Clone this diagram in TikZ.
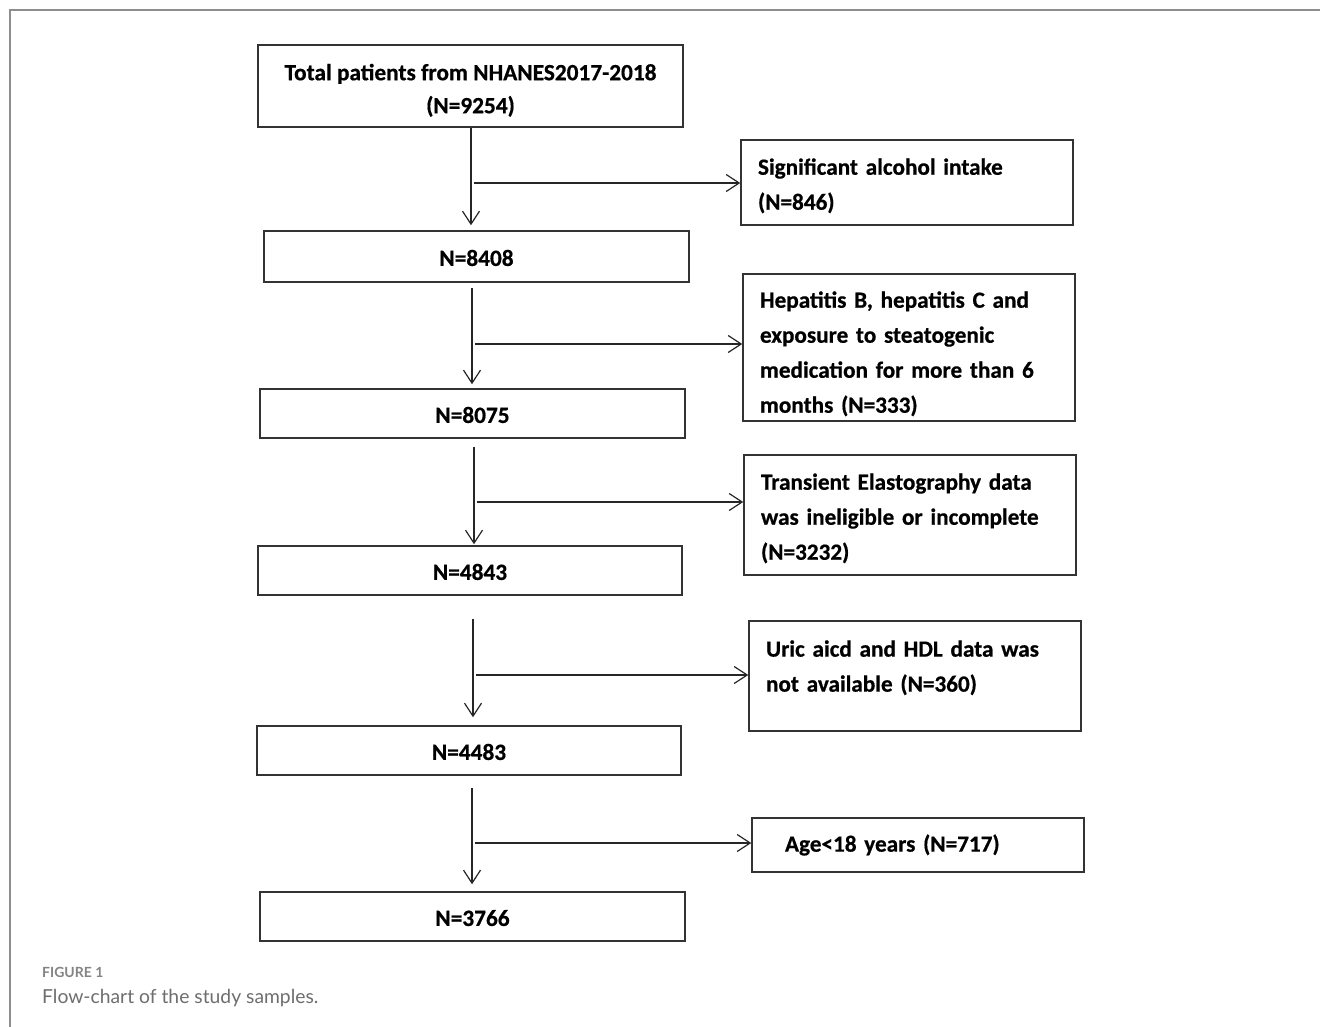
\documentclass[tikz,border=0pt]{standalone}
\usepackage{fontspec}
\setmainfont{Carlito}[BoldFeatures={FakeBold=0.6}]
\newfontfamily\capfont{Lato}
\usetikzlibrary{arrows.meta}
\definecolor{framegray}{HTML}{8E8E8E}
\definecolor{capgray}{HTML}{6E6E6E}
\definecolor{boxline}{HTML}{333333}
% strut in first line that lowers the text block by about #1 pt
\newcommand\lowerby[1]{\rule{0pt}{\dimexpr 17pt+#1pt+#1pt\relax}}
\tikzset{
  mainbox/.style={draw=boxline, line width=1.5pt, rectangle, align=center,
    minimum width=425pt, minimum height=49pt, inner sep=0pt,
    font=\fontsize{23.3}{33}\selectfont\bfseries},
  sidebox/.style={draw=boxline, line width=1.5pt, rectangle, align=left,
    text width=298pt, inner xsep=17pt, inner ysep=0pt,
    font=\fontsize{23.2}{35}\selectfont\bfseries},
  arr/.style={draw=black!85, line width=1.2pt, -{Straight Barb[length=13pt,width=17pt,line width=1.2pt]}}
}
\begin{document}
\begin{tikzpicture}[x=1pt,y=-1pt]
\useasboundingbox (0,0) rectangle (1320,1027);
\fill[white] (0,0) rectangle (1320,1027);
% outer frame
\draw[framegray, line width=2.5pt] (10,1030) -- (10,10) -- (1325,10);

% main column
\node[mainbox, minimum height=82pt] (b0) at (470.5,86) {\lowerby{4}Total patients from NHANES2017-2018\\(N=9254)};
\node[mainbox, minimum height=51pt] (b1) at (476.5,256.5) {\lowerby{1}N=8408};
\node[mainbox] (b2) at (472.5,413.5) {\lowerby{1}N=8075};
\node[mainbox, minimum width=424pt] (b3) at (470,570.5) {\lowerby{1}N=4843};
\node[mainbox, minimum width=424pt] (b4) at (469,750.5) {\lowerby{1}N=4483};
\node[mainbox] (b5) at (472.5,916.5) {\lowerby{1}N=3766};

% side boxes
\node[sidebox, minimum height=85pt] (s1) at (907,182.5) {\lowerby{3}Significant alcohol intake\\(N=846)};
\node[sidebox, minimum height=147pt] (s2) at (909,347.5) {\lowerby{6}Hepatitis B, hepatitis C and\\exposure to steatogenic\\medication for more than 6\\months (N=333)};
\node[sidebox, minimum height=120pt] (s3) at (910,515) {\lowerby{3}Transient Elastography data\\was ineligible or incomplete\\(N=3232)};
\node[sidebox, minimum height=110pt] (s4) at (915,676) {Uric aicd and HDL data was\\not available (N=360)\rule[-20pt]{0pt}{0pt}};
\node[sidebox, minimum height=54pt, inner xsep=0pt, text width=332pt] (s5) at (918,845) {\hspace*{33pt}Age<18 years (N=717)};

% junctions
\coordinate (j1) at (471,183);
\coordinate (j2) at (472,344);
\coordinate (j3) at (474,502);
\coordinate (j4) at (473,675);
\coordinate (j5) at (472,843);

% vertical arrows
\draw[arr, shorten >=5pt] (j1 |- b0.south) -- (j1 |- b1.north);
\draw[arr, shorten <=5pt, shorten >=4pt] (j2 |- b1.south) -- (j2 |- b2.north);
\draw[arr, shorten <=8pt, shorten >=1pt] (j3 |- b2.south) -- (j3 |- b3.north);
\draw[arr, shorten <=23pt, shorten >=8pt] (j4 |- b3.south) -- (j4 |- b4.north);
\draw[arr, shorten <=12pt, shorten >=7pt] (j5 |- b4.south) -- (j5 |- b5.north);

% horizontal arrows
\draw[arr, shorten <=3pt] (j1) -- (j1 -| s1.west);
\draw[arr, shorten <=3pt] (j2) -- (j2 -| s2.west);
\draw[arr, shorten <=3pt] (j3) -- (j3 -| s3.west);
\draw[arr, shorten <=3pt] (j4) -- (j4 -| s4.west);
\draw[arr, shorten <=3pt] (j5) -- (j5 -| s5.west);

% caption
\node[anchor=base west, inner sep=0pt, text=capgray!85, font=\capfont\fontsize{14}{16}\selectfont\bfseries] (fig) at (42,977) {FIGURE 1};
\node[anchor=base west, inner sep=0pt, text=capgray, font=\capfont\fontsize{19.3}{22}\selectfont] (cap) at (42,1003) {Flow-chart of the study samples.};
\end{tikzpicture}
\end{document}
